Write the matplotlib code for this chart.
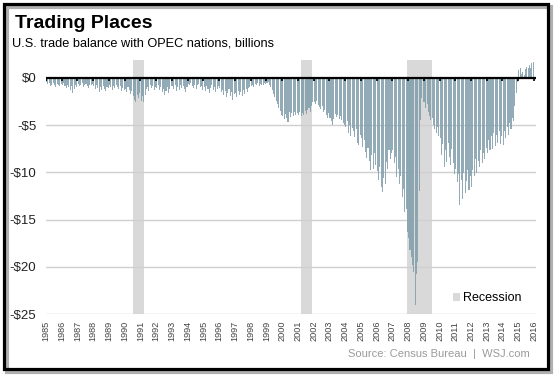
import numpy as np
import matplotlib
matplotlib.use('Agg')
import matplotlib.pyplot as plt
from matplotlib.patches import Rectangle

plt.rcParams['font.family'] = ['Liberation Sans', 'DejaVu Sans']

# U.S. trade balance with OPEC nations, billions of dollars, monthly
start_year = 1985
monthly_balance = [
    -0.4, -0.6, -0.5, -0.9, -0.7, -0.5, -0.8, -1.0, -0.6, -0.7, -0.9, -0.6,        # 1985
    -0.8, -0.5, -0.9, -1.1, -0.7, -1.0, -1.3, -0.9, -1.6, -1.2, -0.8, -1.0,        # 1986
    -0.6, -0.9, -0.7, -0.5, -1.0, -0.8, -0.6, -0.9, -1.1, -0.7, -0.8, -0.6,        # 1987
    -0.9, -1.2, -0.8, -1.1, -1.5, -1.0, -1.3, -0.9, -1.2, -1.4, -1.0, -1.1,        # 1988
    -0.8, -1.0, -1.3, -0.9, -1.1, -0.7, -1.0, -1.2, -0.9, -1.4, -1.1, -1.3,        # 1989
    -1.2, -1.5, -1.0, -1.3, -1.7, -1.4, -1.9, -2.3, -2.6, -1.8, -2.1, -1.6,        # 1990
    -2.4, -1.9, -2.6, -1.8, -1.2, -1.0, -1.4, -0.8, -1.1, -0.9, -1.3, -1.0,        # 1991
    -1.1, -0.8, -1.3, -1.0, -1.5, -1.2, -1.8, -1.4, -1.0, -1.6, -1.2, -0.9,        # 1992
    -0.9, -1.2, -0.8, -1.4, -1.0, -1.3, -0.7, -1.1, -0.9, -1.2, -1.5, -1.0,        # 1993
    -0.6, -0.8, -0.5, -0.9, -1.1, -0.7, -1.2, -0.8, -0.6, -1.0, -0.9, -1.3,        # 1994
    -1.0, -1.4, -0.9, -1.2, -1.6, -1.1, -0.8, -1.3, -1.0, -1.5, -1.2, -0.9,        # 1995
    -1.1, -1.5, -1.3, -1.8, -1.4, -2.0, -1.6, -1.2, -1.9, -1.5, -2.3, -1.7,        # 1996
    -1.6, -2.0, -1.4, -1.8, -1.5, -1.9, -1.3, -1.7, -1.2, -1.5, -1.1, -1.0,        # 1997
    -0.9, -0.7, -1.0, -0.6, -0.8, -0.5, -0.9, -0.6, -0.7, -0.8, -0.5, -0.6,        # 1998
    -0.5, -0.4, -0.8, -1.0, -1.3, -1.7, -2.0, -2.4, -2.8, -3.2, -3.5, -3.9,        # 1999
    -4.0, -4.4, -3.8, -4.2, -4.7, -3.6, -4.1, -3.7, -4.0, -3.6, -3.9, -3.7,        # 2000
    -3.9, -3.6, -4.0, -3.7, -3.9, -3.5, -3.8, -3.4, -3.2, -3.6, -3.0, -2.6,        # 2001
    -2.5, -2.8, -2.4, -2.9, -3.1, -3.3, -3.0, -3.6, -3.4, -3.9, -4.2, -3.7,        # 2002
    -4.2, -4.6, -5.0, -4.3, -3.8, -4.1, -3.9, -4.4, -4.0, -4.5, -4.8, -5.0,        # 2003
    -5.2, -4.6, -5.8, -5.0, -6.1, -5.3, -5.6, -6.3, -5.4, -6.9, -7.1, -6.0,        # 2004
    -6.4, -7.3, -6.6, -7.8, -8.5, -7.4, -8.8, -9.7, -8.2, -9.6, -8.0, -9.2,        # 2005
    -9.9, -10.8, -9.4, -11.5, -12.1, -10.6, -11.2, -8.9, -9.6, -7.6, -8.6, -7.9,   # 2006
    -7.6, -9.0, -8.4, -10.5, -9.6, -11.2, -10.4, -12.6, -11.8, -14.2, -13.9, -16.3,  # 2007
    -17.0, -18.2, -19.0, -19.8, -20.5, -24.0, -20.8, -19.5, -12.0, -4.5, -2.1, -2.6,  # 2008
    -2.5, -3.2, -2.8, -3.6, -4.0, -4.5, -4.2, -5.0, -5.4, -5.8, -5.2, -6.2,        # 2009
    -6.4, -8.2, -7.0, -9.4, -7.6, -8.9, -6.9, -8.4, -9.2, -7.5, -9.0, -10.2,       # 2010
    -9.6, -11.0, -10.2, -13.5, -10.8, -12.8, -10.1, -12.2, -10.9, -9.8, -11.9, -10.4,  # 2011
    -11.6, -9.8, -10.4, -8.6, -10.1, -8.8, -9.4, -7.6, -9.0, -7.9, -8.6, -7.4,     # 2012
    -8.0, -6.6, -7.6, -6.2, -7.5, -5.8, -7.2, -6.0, -6.9, -5.6, -7.0, -6.1,        # 2013
    -7.1, -5.6, -6.4, -5.2, -6.0, -4.8, -5.4, -4.2, -4.6, -3.0, -1.6, -0.4,        # 2014
    0.8, 1.1, 0.4, 0.6, 0.3, 0.9, 1.2, 1.0, 1.4, 1.1, 1.6, 1.7,                     # 2015
]

recessions = [(1990.5, 1991.25), (2001.17, 2001.92), (2007.92, 2009.5)]
year_ticks = list(range(1985, 2017))
y_ticks = [0, -5, -10, -15, -20, -25]
y_labels = ['$0', '-$5', '-$10', '-$15', '-$20', '-$25']

W, H = 556, 375
fig = plt.figure(figsize=(W / 100, H / 100), dpi=100)
fig.patch.set_facecolor('white')

# frame with a little shadow
fig.patches.append(Rectangle((6.5 / W, 1 - 371.5 / H), 544 / W, 365 / H, transform=fig.transFigure,
                             fill=False, edgecolor='#b0b0b0', linewidth=3, zorder=0))
fig.patches.append(Rectangle((3.5 / W, 1 - 368.5 / H), 544 / W, 365 / H, transform=fig.transFigure,
                             fill=False, edgecolor='black', linewidth=2.3, zorder=1))

ax = fig.add_axes([46 / W, 1 - 314 / H, 490 / W, 254 / H])

x = start_year + (np.arange(len(monthly_balance)) + 0.5) / 12
ax.bar(x, monthly_balance, width=0.8 / 12, color='#7f9dab', alpha=0.85, edgecolor='none', zorder=2)

for i, (a, b) in enumerate(recessions):
    ax.axvspan(a, b, color='#d9d9d9', zorder=0, lw=0, label='Recession' if i == 0 else None)

ax.axhline(0, color='black', lw=1.6, zorder=5)
ax.vlines(year_ticks, -0.35, 0, color='black', lw=1.2, zorder=5)

ax.set_xlim(1985, 1985 + 490 / 15.74)
ax.set_ylim(-25, 1.9)
ax.set_yticks(y_ticks)
ax.set_yticklabels(y_labels, fontsize=9.5, color='#222222')
ax.set_xticks(year_ticks)
ax.set_xticklabels([str(y) for y in year_ticks], rotation=90, fontsize=6.6, color='#444444')
ax.tick_params(axis='both', length=0)
ax.tick_params(axis='y', pad=7)
ax.tick_params(axis='x', pad=5)
ax.yaxis.grid(True, color='#cfcfcf', lw=1)
ax.set_axisbelow(True)
for s in ax.spines.values():
    s.set_visible(False)

ax.legend(loc='lower right', bbox_to_anchor=(0.99, 0.0), frameon=False, fontsize=9,
          handlelength=0.6, handleheight=0.6, handletextpad=0.2, borderpad=0.3)

fig.text(15 / W, 1 - 28 / H, 'Trading Places', fontsize=14, fontweight='bold', va='baseline')
fig.text(12 / W, 1 - 47 / H, 'U.S. trade balance with OPEC nations, billions', fontsize=9.2, va='baseline')
fig.text(530 / W, 1 - 357 / H, 'Source: Census Bureau  |  WSJ.com', fontsize=8, color='#9a9a9a',
         ha='right', va='baseline')

fig.savefig('out.png', dpi=100)
